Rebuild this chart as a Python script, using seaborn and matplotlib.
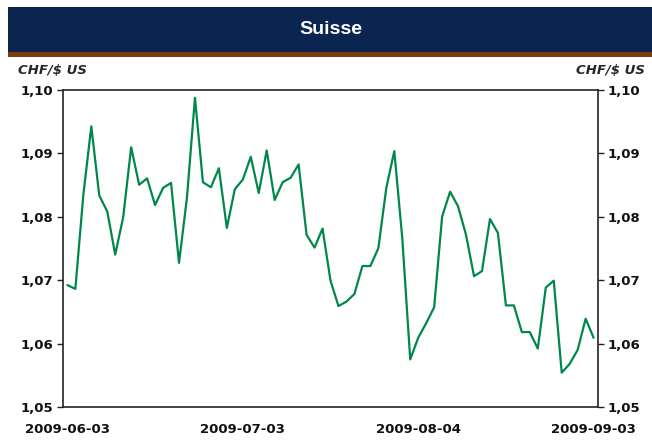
import matplotlib
matplotlib.use("Agg")
import matplotlib.pyplot as plt
import seaborn as sns
import pandas as pd
from matplotlib.patches import Rectangle

# Data: CHF per US$, business days 2009-06-03 .. 2009-09-03
dates = pd.bdate_range("2009-06-03", "2009-09-03")
rates = [1.0692, 1.0686, 1.0834, 1.0942, 1.0833, 1.0808, 1.0740, 1.0799, 1.0909, 1.0850,
         1.0860, 1.0818, 1.0845, 1.0853, 1.0727, 1.0830, 1.0987, 1.0854, 1.0846, 1.0876,
         1.0782, 1.0843, 1.0858, 1.0894, 1.0837, 1.0904, 1.0826, 1.0854, 1.0861, 1.0882,
         1.0771, 1.0751, 1.0781, 1.0699, 1.0659, 1.0666, 1.0678, 1.0722, 1.0722, 1.0750,
         1.0845, 1.0903, 1.0766, 1.0575, 1.0609, 1.0632, 1.0657, 1.0800, 1.0839, 1.0816,
         1.0771, 1.0706, 1.0714, 1.0796, 1.0774, 1.0660, 1.0660, 1.0618, 1.0618, 1.0592,
         1.0688, 1.0699, 1.0554, 1.0568, 1.0590, 1.0639, 1.0609]
tick_dates = ["2009-06-03", "2009-07-03", "2009-08-04", "2009-09-03"]
y_ticks = [1.05, 1.06, 1.07, 1.08, 1.09, 1.10]

df = pd.DataFrame({"pos": range(len(dates)), "date": dates, "rate": rates})

sns.set_style("white")
plt.rcParams["font.family"] = ["DejaVu Sans"]

fig = plt.figure(figsize=(6.52, 4.40), dpi=100)

# Title banner
fig.patches.append(Rectangle((8/652, 1 - 52/440), 1, 45/440, transform=fig.transFigure,
                             facecolor="#0b2550", edgecolor="none"))
fig.patches.append(Rectangle((8/652, 1 - 57/440), 1, 5/440, transform=fig.transFigure,
                             facecolor="#7a3d10", edgecolor="none"))
fig.text(0.508, 1 - 30/440, "Suisse", color="white", fontsize=14, fontweight="bold",
         family="Liberation Sans", ha="center", va="center")
fig.text(18/652, 1 - 71/440, "CHF/$ US", fontsize=9.5, fontweight="bold", fontstyle="italic",
         ha="left", va="center")
fig.text(645/652, 1 - 71/440, "CHF/$ US", fontsize=9.5, fontweight="bold", fontstyle="italic",
         ha="right", va="center")

ax = fig.add_axes([63/652, 33/440, 535/652, 317.5/440])
sns.lineplot(data=df, x="pos", y="rate", color="#00884a", linewidth=1.6, ax=ax)

ax.set_xlim(-0.55, len(dates) - 0.45)
ax.set_ylim(1.05, 1.10)
ax.set_yticks(y_ticks)
ax.set_yticklabels([f"{v:.2f}".replace(".", ",") for v in y_ticks])
pos = [df.index[df["date"] == pd.Timestamp(d)][0] for d in tick_dates]
ax.set_xticks(pos)
ax.set_xticklabels(tick_dates)
ax.set_xlabel("")
ax.set_ylabel("")

for s in ax.spines.values():
    s.set_visible(True)
    s.set_color("#222222")
    s.set_linewidth(1.2)
ax.tick_params(axis="y", left=True, right=True, labelright=True, direction="out",
               length=4, width=1, colors="#222222", labelsize=9.5, pad=3)
ax.tick_params(axis="x", bottom=False, labelsize=9.5, pad=8)
for lab in ax.get_xticklabels() + ax.get_yticklabels():
    lab.set_fontweight("bold")
    lab.set_color("#111111")

fig.savefig("out.png", dpi=100)
